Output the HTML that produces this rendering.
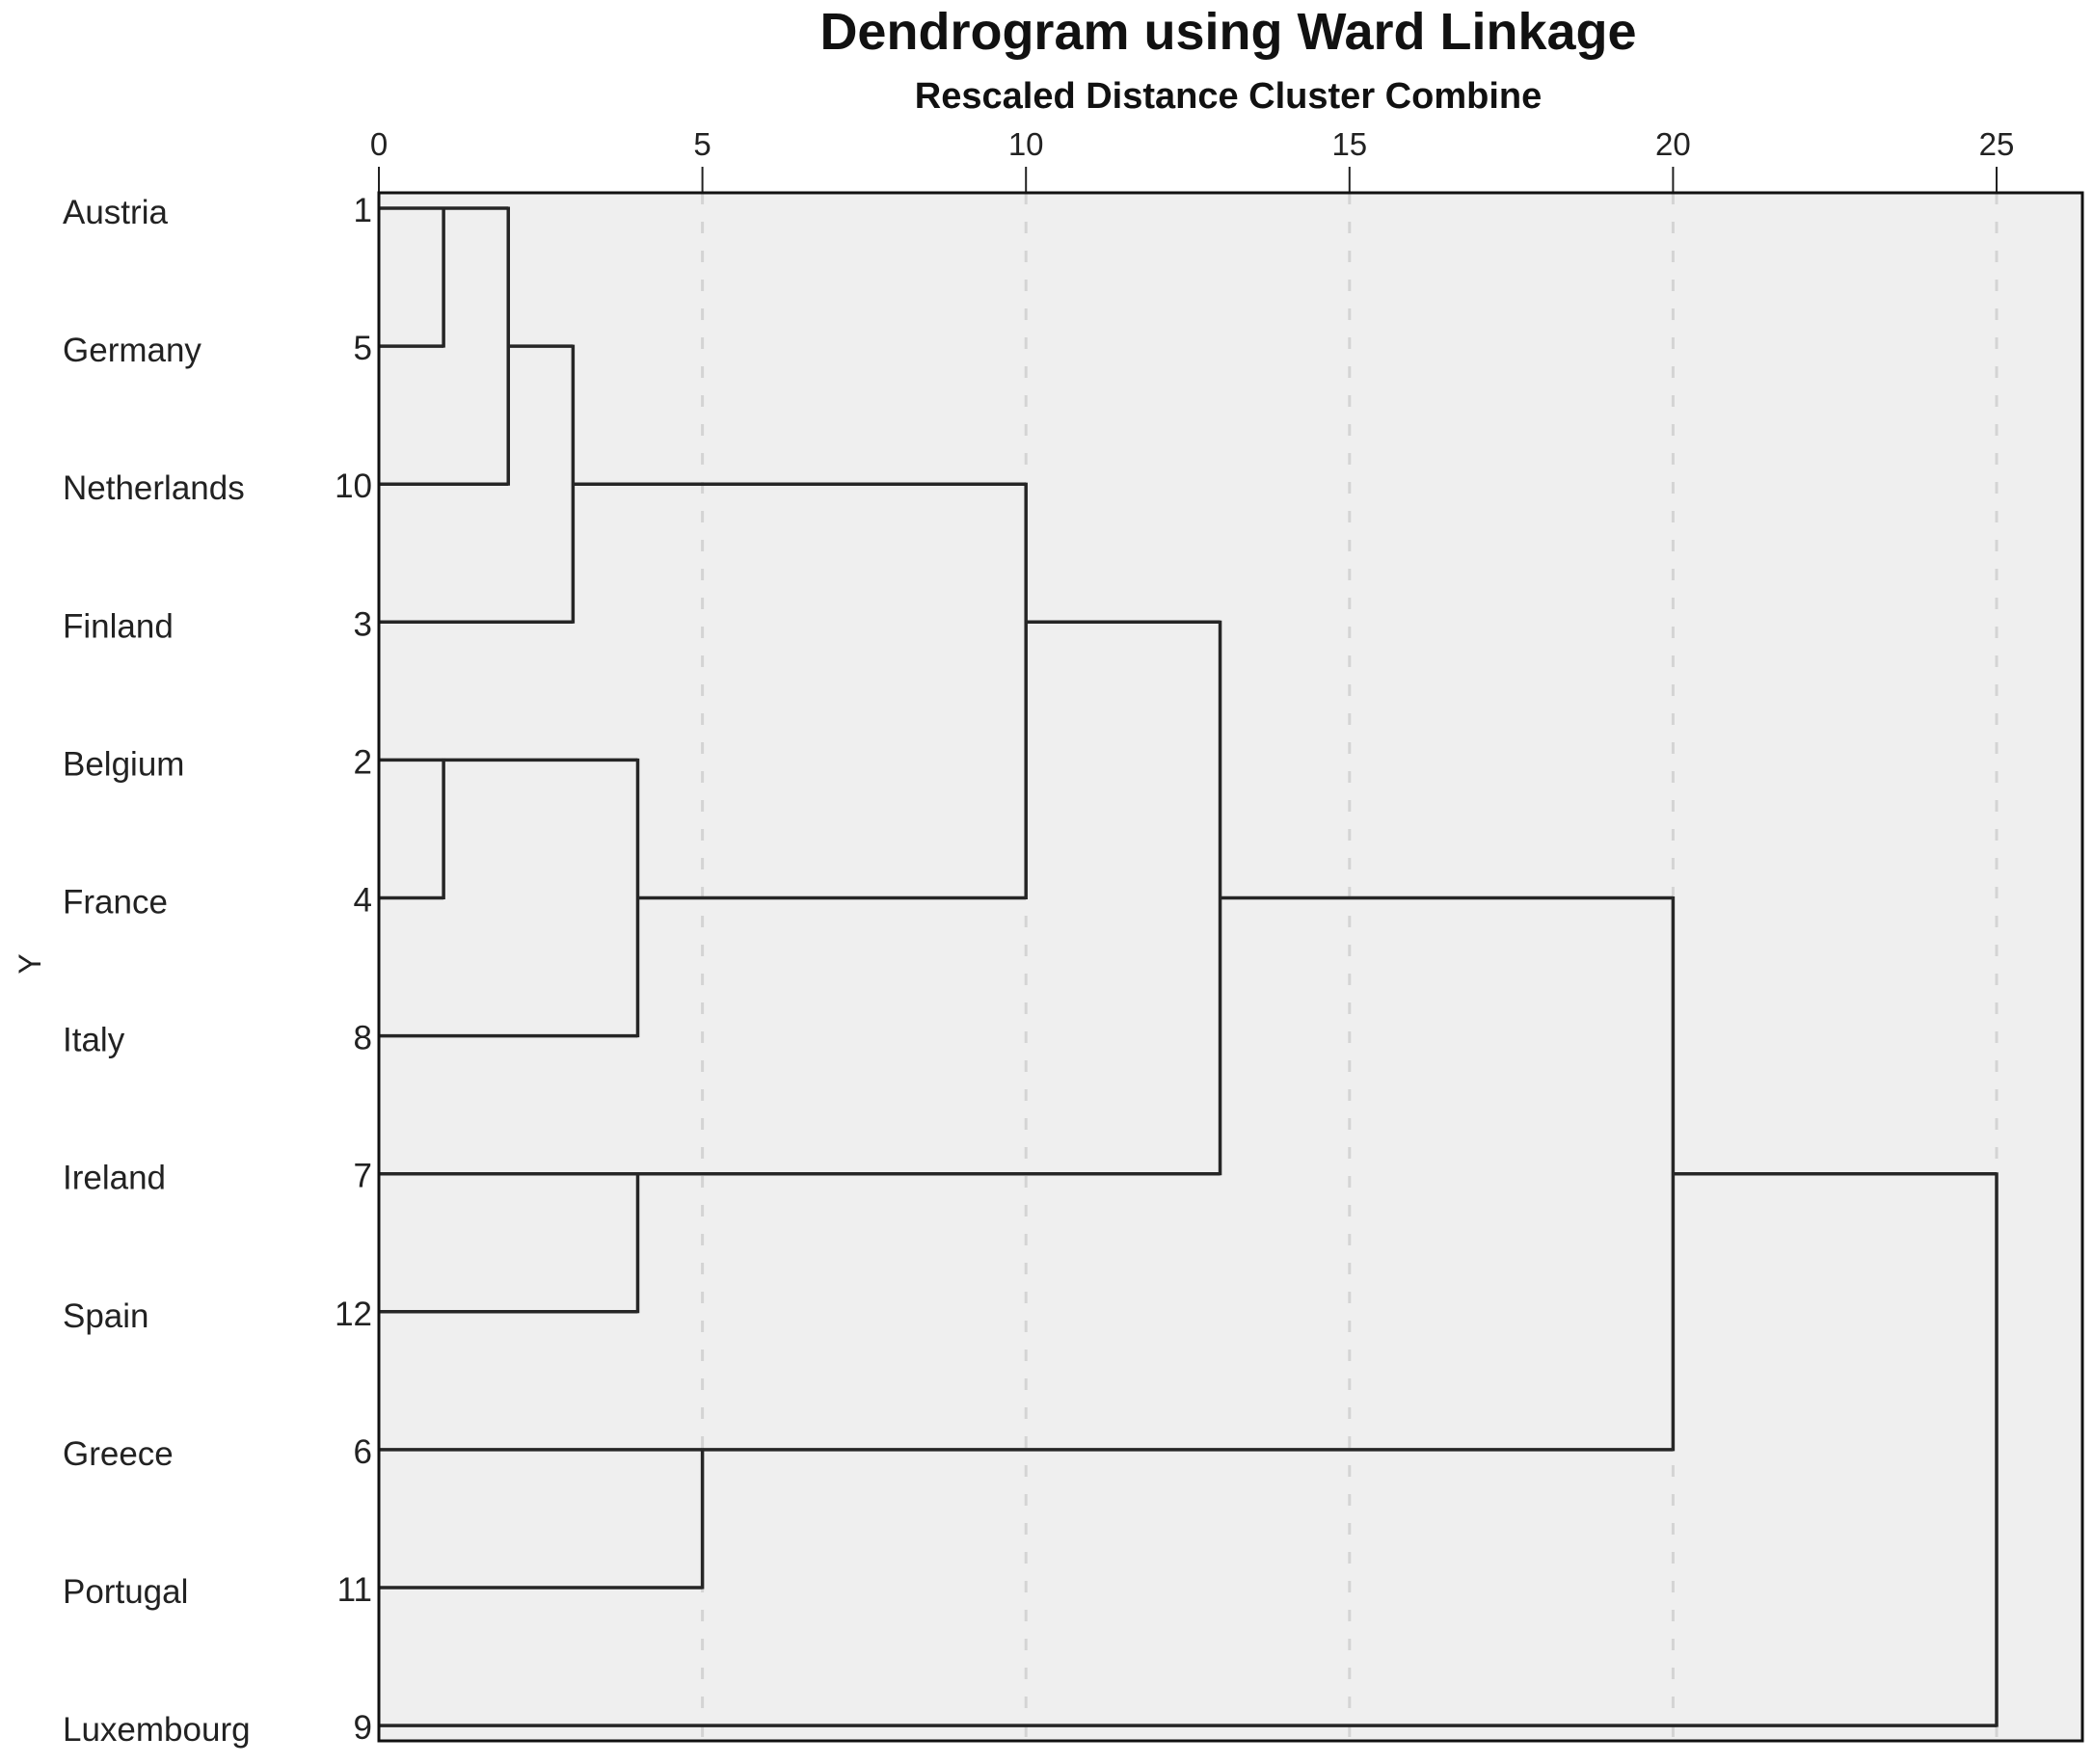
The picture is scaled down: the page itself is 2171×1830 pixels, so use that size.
<!DOCTYPE html>
<html><head><meta charset="utf-8"><style>
html,body{margin:0;padding:0;background:#fff;}
svg text{font-family:"Liberation Sans",Arial,sans-serif;}
</style></head><body>
<svg id="chart" width="2171" height="1825" viewBox="0 0 2171 1825" xmlns="http://www.w3.org/2000/svg">
<text x="1274" y="51" font-size="54" font-weight="bold" text-anchor="middle" fill="#111">Dendrogram using Ward Linkage</text>
<text x="1274" y="112" font-size="38" font-weight="bold" text-anchor="middle" fill="#111">Rescaled Distance Cluster Combine</text>
<text transform="translate(42,1000) rotate(-90)" font-size="32" text-anchor="middle" fill="#222">Y</text>
<rect x="393" y="200" width="1767" height="1606" fill="#efefef" stroke="none"/>
<g id="grid"></g><g id="ticks"></g><g id="labels"></g><g id="links"></g>
<rect x="393" y="200" width="1767" height="1606" fill="none" stroke="#111" stroke-width="3"/>
</svg>
<script>
const countries = ["Austria","Germany","Netherlands","Finland","Belgium","France","Italy","Ireland","Spain","Greece","Portugal","Luxembourg"];
const caseNumbers = [1,5,10,3,2,4,8,7,12,6,11,9];
const tickValues = [0,5,10,15,20,25];
// merges: children (leaf "L#" or merge "M#"), combine height, row where merged cluster line continues
const mergeLeft  = ["L0","M0","M1","L4","M3","M2","L7","M5","L9","M7","M9"];
const mergeRight = ["L1","L2","L3","L5","L6","M4","L8","M6","L10","M8","L11"];
const mergeHeight = [1,2,3,1,4,10,4,13,5,20,25];
const mergeOutRow = [0,1,2,4,5,3,7,5,9,7,7];

const NS="http://www.w3.org/2000/svg";
const x0=393, x1=2071, dMax=25;
const xs = v => x0 + (x1-x0)*v/dMax;
const row0=216, rowStep=143.1;
const ys = r => row0 + r*rowStep;
function mk(tag, attrs, parent){const e=document.createElementNS(NS,tag);for(const k in attrs)e.setAttribute(k,attrs[k]);document.getElementById(parent).appendChild(e);return e;}

tickValues.forEach(t=>{
  const g = mk("line",{x1:xs(t),x2:xs(t),y1:200,y2:1806,stroke:"#d4d4d4","stroke-width":3,"stroke-dasharray":"12,18"},"grid");
  
  
  const tk = mk("line",{x1:xs(t),x2:xs(t),y1:173,y2:200,stroke:"#222","stroke-width":2},"ticks");
  
  
  const tl = mk("text",{x:xs(t),y:161,"font-size":33,"text-anchor":"middle",fill:"#222"},"ticks");
  tl.textContent=t;
  
  
});

countries.forEach((c,i)=>{
  const t = mk("text",{x:65,y:ys(i)+16,"font-size":35,fill:"#222"},"labels");
  t.textContent=c;
  
  
  const n = mk("text",{x:386,y:ys(i)+14,"font-size":35,"text-anchor":"end",fill:"#222"},"labels");
  n.textContent=caseNumbers[i];
  
  
});

const nodePos = {};
countries.forEach((c,i)=>{nodePos["L"+i]={x:0,y:i};});
mergeHeight.forEach((h,i)=>{
  [mergeLeft[i],mergeRight[i]].forEach(ch=>{
    const p=nodePos[ch];
    const l = mk("line",{x1:xs(p.x),x2:xs(h),y1:ys(p.y),y2:ys(p.y),stroke:"#262626","stroke-width":3.5},"links");
    
    
  });
  const a=nodePos[mergeLeft[i]].y, b=nodePos[mergeRight[i]].y;
  const v = mk("line",{x1:xs(h),x2:xs(h),y1:ys(a)-1.5,y2:ys(b)+1.5,stroke:"#262626","stroke-width":3.5},"links");
  
  
  nodePos["M"+i]={x:h,y:mergeOutRow[i]};
});
</script>
</body></html>
